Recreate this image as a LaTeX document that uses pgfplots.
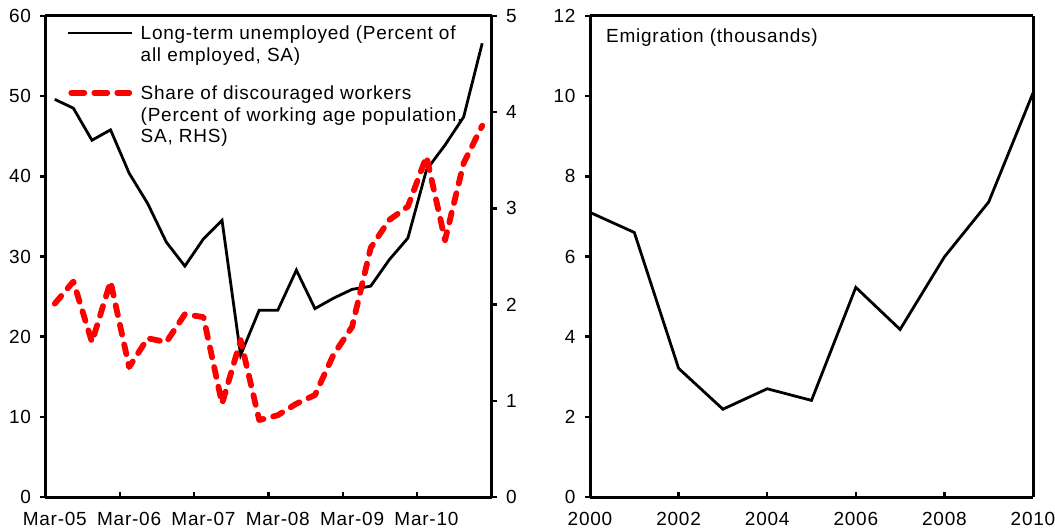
\documentclass[border=0pt]{standalone}
\usepackage{fontspec}
\setmainfont{Liberation Sans}[LetterSpace=4]
\usepackage{pgfplots}
\pgfplotsset{compat=1.18}

\newcommand\chartfont{\fontsize{19}{21.5}\selectfont}

\pgfplotsset{
  panel/.style={
    scale only axis, height=481pt,
    separate axis lines,
    axis line style={line width=3pt, black},
    major tick length=5pt,
    tick style={line width=2.4pt, black},
    tick label style={font=\chartfont},
    xticklabel style={yshift=-12pt},
    /pgf/number format/assume math mode=true,
    /pgf/number format/1000 sep={},
  },
  legline/.style={legend image code/.code={\draw[##1] (0pt,-7pt) -- (64pt,-7pt);}},
  legdash/.style={legend image code/.code={\draw[##1,dash pattern=on 13pt off 10pt] (3pt,-7pt) -- (61pt,-7pt);}},
}

% quarterly, Mar-05 .. Dec-10
\pgfplotstableread{
i  ltu   disc
0  49.6  2.01
1  48.5  2.24
2  44.5  1.61
3  45.8  2.24
4  40.4  1.35
5  36.6  1.65
6  31.8  1.61
7  28.8  1.90
8  32.2  1.87
9  34.5  0.97
10 17.7  1.63
11 23.3  0.80
12 23.3  0.85
13 28.3  0.97
14 23.5  1.06
15 24.8  1.48
16 25.9  1.77
17 26.3  2.59
18 29.6  2.88
19 32.3  3.02
20 40.8  3.54
21 43.9  2.67
22 47.4  3.47
23 56.6  3.86
}\labour

\begin{document}
\begin{tikzpicture}
\path[use as bounding box] (0pt,0pt) rectangle (1055pt,530pt);

% left panel: frame, x ticks, long-term unemployed
\begin{axis}[panel, width=446pt, at={(45.5pt,33pt)}, anchor=south west,
  xmin=-0.5, xmax=23.5, ymin=0, ymax=60,
  tick align=inside, ytick=\empty,
  xtick={3.5,7.5,11.5,15.5,19.5}, xticklabels={}, xtick pos=bottom,
  extra x ticks={0,4,8,12,16,20},
  extra x tick labels={Mar-05,Mar-06,Mar-07,Mar-08,Mar-09,Mar-10},
  extra x tick style={tick style={draw=none}}]
\addplot[black, line width=2.8pt] table[x=i, y=ltu] {\labour};
\end{axis}

% left panel: left y axis
\begin{axis}[panel, width=446pt, at={(45.5pt,33pt)}, anchor=south west,
  xmin=-0.5, xmax=23.5, ymin=0, ymax=60,
  axis x line=none, axis y line*=left, tick align=outside,
  ytick={0,10,...,60}, yticklabel style={xshift=-6pt}]
\end{axis}

% left panel: right y axis, discouraged workers
\begin{axis}[panel, width=446pt, at={(45.5pt,33pt)}, anchor=south west,
  xmin=-0.5, xmax=23.5, ymin=0, ymax=5,
  axis x line=none, axis y line*=right, tick align=outside,
  ytick={0,...,5}, yticklabel style={xshift=6pt},
  legline,
  legend style={at={(axis description cs:0.048,0.979)}, anchor=north west,
    draw=none, fill=none, inner sep=0pt, outer sep=0pt,
    row sep=23pt, column sep=7pt, font=\chartfont,
    cells={anchor=north west}, nodes={inner sep=0pt, align=left}}]
\addlegendimage{black, line width=2.8pt}
\addplot[red, line width=5.8pt, line cap=round, line join=round,
  dash pattern=on 10pt off 10pt, legdash] table[x=i, y=disc] {\labour};
\legend{{Long-term unemployed (Percent of\\all employed, SA)},
  {Share of discouraged workers\\(Percent of working age population,\\SA, RHS)}}
\end{axis}

% right panel: frame, x ticks, emigration
\begin{axis}[panel, width=443pt, at={(590pt,33pt)}, anchor=south west,
  xmin=2000, xmax=2010, ymin=0, ymax=12,
  tick align=inside, ytick=\empty,
  xtick={2000,2002,...,2010}, xtick pos=bottom]
\addplot[black, line width=2.8pt] coordinates {
  (2000,7.10) (2001,6.60) (2002,3.21) (2003,2.19) (2004,2.70) (2005,2.41)
  (2006,5.23) (2007,4.18) (2008,5.99) (2009,7.36) (2010,10.08)};
\node[anchor=west, font=\chartfont, inner sep=0pt] at (axis description cs:0.036,0.956) {Emigration (thousands)};
\end{axis}

% right panel: y axis
\begin{axis}[panel, width=443pt, at={(590pt,33pt)}, anchor=south west,
  xmin=2000, xmax=2010, ymin=0, ymax=12,
  axis x line=none, axis y line*=left, tick align=outside,
  ytick={0,2,...,12}, yticklabel style={xshift=-6pt}]
\end{axis}
\end{tikzpicture}
\end{document}
